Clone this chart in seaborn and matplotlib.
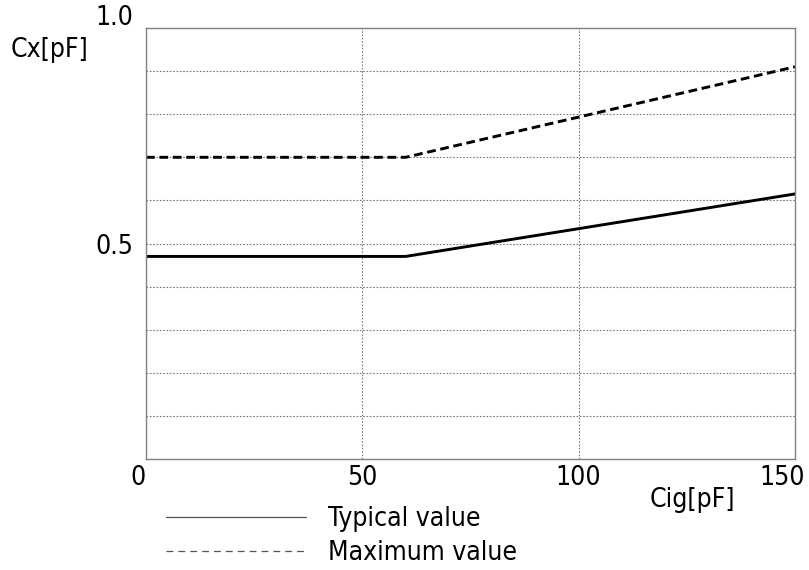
import matplotlib
matplotlib.use("Agg")
import seaborn as sns
from matplotlib import pyplot as plt
from matplotlib.lines import Line2D
from matplotlib.transforms import ScaledTranslation
import pandas as pd

# values
cig = [0, 60, 150]
typical = [0.47, 0.47, 0.615]
maximum = [0.70, 0.70, 0.91]
x_ticks = [0, 50, 100, 150]
y_ticks = [0.5, 1.0]
y_grid = [0.1, 0.2, 0.3, 0.4, 0.5, 0.6, 0.7, 0.8, 0.9]
series_names = ["Typical value", "Maximum value"]

sns.set_style("white")
plt.rcParams["font.family"] = ["DejaVu Sans"]
plt.rcParams["font.stretch"] = "condensed"
plt.rcParams["text.color"] = "black"
plt.rcParams["xtick.color"] = "black"
plt.rcParams["ytick.color"] = "black"
FS = 19

df = pd.DataFrame({"cig": cig, "typical": typical, "maximum": maximum})

fig = plt.figure(figsize=(8.09, 5.70), dpi=100)
ax = fig.add_axes([146 / 809, 111 / 570, 649 / 809, 431 / 570])

sns.lineplot(data=df, x="cig", y="typical", ax=ax, color="black", linewidth=2.1)
sns.lineplot(data=df, x="cig", y="maximum", ax=ax, color="black", linewidth=2.1,
             linestyle=(0, (3, 1.6)))

ax.set_xlim(0, 150)
ax.set_ylim(0, 1.0)
ax.set_xticks(x_ticks)
ax.set_yticks(y_ticks)
ax.set_yticks(y_grid, minor=True)
ax.set_xticklabels([str(t) for t in x_ticks], fontsize=FS)
ax.set_yticklabels([f"{t:.1f}" for t in y_ticks], fontsize=FS)
ax.tick_params(axis="both", which="both", length=0)
ax.tick_params(axis="y", pad=9)
ax.tick_params(axis="x", pad=4)

# grid
for v in y_grid:
    ax.axhline(v, color="#777777", linewidth=0.8, linestyle=(0, (1.5, 1.5)), zorder=0)
for v in x_ticks[1:-1]:
    ax.axvline(v, color="#777777", linewidth=0.8, linestyle=(0, (1.5, 1.5)), zorder=0)

for s in ax.spines.values():
    s.set_color("#808080")
    s.set_linewidth(1.0)

# shift edge tick labels like the original
xl = ax.get_xticklabels()
xl[0].set_transform(xl[0].get_transform() + ScaledTranslation(-8 / 100, 0, fig.dpi_scale_trans))
xl[-1].set_transform(xl[-1].get_transform() + ScaledTranslation(-13 / 100, 0, fig.dpi_scale_trans))
yl = ax.get_yticklabels()
yl[-1].set_transform(yl[-1].get_transform() + ScaledTranslation(0, 13 / 100, fig.dpi_scale_trans))

ax.set_xlabel("")
ax.set_ylabel("")
fig.text(692 / 809, 1 - 500 / 570, "Cig[pF]", fontsize=FS, ha="center", va="center")
fig.text(50 / 809, 1 - 50 / 570, "Cx[pF]", fontsize=FS, ha="center", va="center")

handles = [
    Line2D([], [], color="#555555", linewidth=0.9),
    Line2D([], [], color="#555555", linewidth=0.9, linestyle=(0, (5.5, 4))),
]
fig.legend(handles, series_names, loc="upper left", bbox_to_anchor=(166 / 809, 1 - 506 / 570),
           frameon=False, fontsize=FS, handlelength=5.3, handletextpad=0.85,
           labelspacing=0.3, borderpad=0, borderaxespad=0)

fig.savefig("out.png", dpi=100)
